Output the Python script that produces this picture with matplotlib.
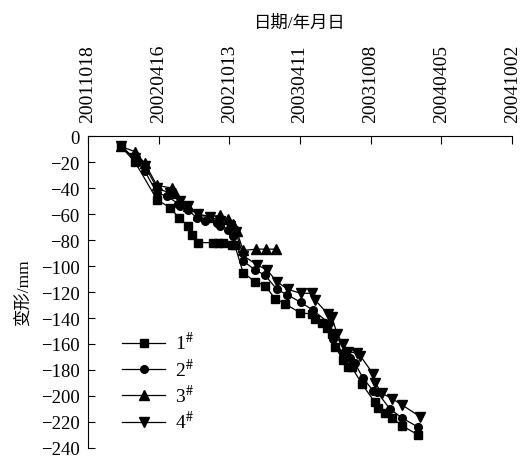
import matplotlib
matplotlib.use('Agg')
import matplotlib.pyplot as plt

plt.rcParams['font.family'] = ['Liberation Serif', 'Noto Sans CJK SC']
plt.rcParams['mathtext.fontset'] = 'stix'
plt.rcParams['axes.unicode_minus'] = True

# x = days after 2001-10-18, y = deformation (mm)
tickDays = [0, 180, 360, 540, 720, 900, 1080]
tickLabels = ['20011018', '20020416', '20021013', '20030411', '20031008', '20040405', '20041002']

days1 = [84, 120, 176, 209, 232, 255, 265, 280, 318, 331, 344, 367, 374, 395, 425, 451, 476, 502,
         540, 571, 578, 596, 609, 621, 629, 649, 662, 672, 698, 731, 739, 756, 774, 800, 841]
def1 = [-8, -20, -49, -55, -63, -69, -76, -82, -82, -82, -82, -84, -84, -105, -112, -115, -125, -129,
        -136, -137, -141, -144, -148, -152, -162, -172, -178, -178, -191, -205, -209, -213, -217, -223, -230]

days2 = [84, 125, 145, 176, 201, 229, 234, 255, 278, 298, 329, 336, 357, 369, 395, 425, 451, 481,
         507, 542, 573, 614, 624, 649, 667, 680, 700, 726, 736, 769, 800, 841]
def2 = [-8, -19, -27, -44, -46, -52, -54, -57, -63, -65, -67, -69, -72, -77, -96, -103, -107, -118,
        -122, -128, -134, -144, -156, -167, -171, -175, -186, -196, -197, -210, -217, -224]

days3 = [84, 120, 145, 176, 214, 222, 255, 280, 311, 336, 357, 369, 379, 395, 428, 453, 479]
def3 = [-8, -12, -21, -38, -40, -44, -54, -61, -62, -61, -64, -68, -73, -88, -87, -87, -87]

days4 = [84, 120, 145, 176, 209, 234, 255, 280, 311, 336, 362, 377, 395, 430, 456, 481, 509,
         542, 571, 578, 611, 621, 634, 649, 662, 685, 693, 726, 731, 749, 774, 800, 846]
def4 = [-8, -17, -23, -40, -44, -50, -54, -60, -62, -65, -69, -74, -92, -99, -103, -112, -118,
        -121, -121, -126, -137, -139, -152, -160, -166, -167, -169, -183, -190, -198, -202, -207, -216]

fig = plt.figure(figsize=(5.2, 4.6), dpi=100)
ax = fig.add_axes([0.169, 0.024, 0.816, 0.678])

ms = 5.5
ax.plot(days1, def1, '-s', color='black', lw=0.9, ms=ms, label=r'1$^{\#}$')
ax.plot(days2, def2, '-o', color='black', lw=0.9, ms=ms, label=r'2$^{\#}$')
ax.plot(days3, def3, '-^', color='black', lw=0.9, ms=ms + 1, label=r'3$^{\#}$')
ax.plot(days4, def4, '-v', color='black', lw=0.9, ms=ms + 1, label=r'4$^{\#}$')

ax.set_xlim(0, 1080)
ax.set_ylim(-240, 0)
ax.xaxis.tick_top()
ax.xaxis.set_label_position('top')
ax.set_xticks(tickDays)
ax.set_xticklabels(tickLabels, rotation=90, fontsize=14, ha='center', va='bottom')
ax.set_yticks(range(-240, 1, 20))
ax.tick_params(axis='y', labelsize=13.5, direction='in', length=5, pad=6)
ax.tick_params(axis='x', direction='in', length=6, pad=10)

ax.spines['right'].set_visible(False)
ax.spines['bottom'].set_visible(False)

ax.set_xlabel('日期/年月日', fontsize=12.5, labelpad=12)
ax.set_ylabel('变形/mm', fontsize=12.5, labelpad=6)

ax.legend(loc='upper left', bbox_to_anchor=(0.04, 0.43), frameon=False, fontsize=14,
          handlelength=2.2, labelspacing=0.22, handletextpad=0.5)

plt.savefig('out.png', dpi=100)
